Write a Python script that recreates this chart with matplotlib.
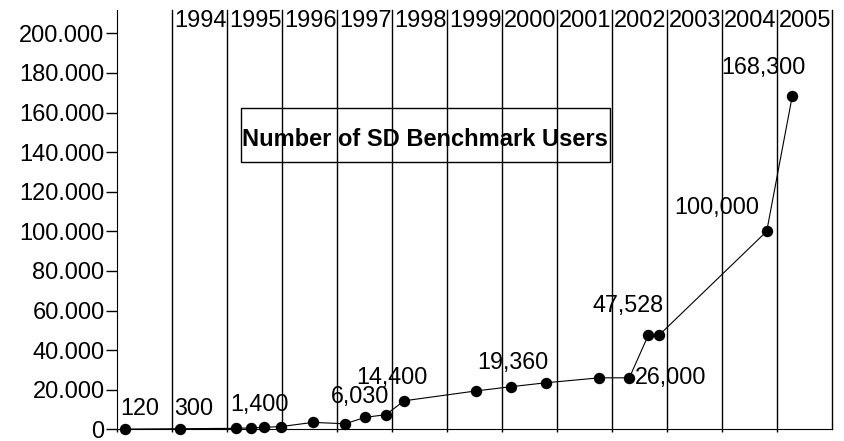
import matplotlib.pyplot as plt
from matplotlib.patches import Rectangle
from matplotlib.ticker import FuncFormatter

plt.rcParams['font.family'] = ['Liberation Sans', 'DejaVu Sans']

# position along the time axis (fractional year) and number of users
years = [1993.145, 1994.145, 1995.16, 1995.44, 1995.67, 1995.99, 1996.56,
         1997.15, 1997.51, 1997.89, 1998.22, 1999.52, 2000.158, 2000.795,
         2001.769, 2002.315, 2002.66, 2002.855, 2004.813, 2005.278]
users = [120, 300, 500, 700, 1000, 1400, 3500,
         2800, 6030, 7400, 14400, 19360, 21500, 23500,
         26000, 26000, 47528, 47528, 100000, 168300]

# which points get a value label, and where the label sits (pixels from the point)
labelled = [0, 1, 5, 8, 10, 11, 15, 16, 18, 19]
label_offsets = [(15, 14), (14, 14), (-22, 16), (-5, 14), (-12, 17),
                 (37, 22), (41, -6), (-20, 23), (-50, 17), (-29, 22)]

year_labels = list(range(1994, 2006))
grid_years = list(range(1994, 2007))
y_ticks = list(range(0, 200001, 20000))

fig = plt.figure(figsize=(8.45, 4.41), dpi=100)
ax = fig.add_axes([0.1385, 0.0265, 0.8461, 0.9508])

ax.set_xlim(1993, 2006)
ax.set_ylim(0, 211768)

# one vertical line per year, labelled at the top
for yr in grid_years:
    ax.axvline(yr, color='black', lw=1, zorder=1, clip_on=False)
for yr in year_labels:
    ax.text(yr + 0.035, 0.9602, str(yr), transform=ax.get_xaxis_transform(),
            fontsize=17, ha='left', va='baseline')

ax.plot(years, users, color='black', lw=0.8, marker='o', markersize=7.2,
        zorder=3, clip_on=False)

for i, (dx, dy) in zip(labelled, label_offsets):
    ax.annotate(f'{users[i]:,}', (years[i], users[i]), xytext=(dx, dy),
                textcoords='offset pixels', ha='center', va='baseline',
                fontsize=16.8, zorder=4)

# title in a plain box
ax.add_patch(Rectangle((0.173, 0.6382), 0.5165, 0.1274, transform=ax.transAxes,
                       fill=False, edgecolor='black', lw=1, zorder=2))
ax.text(0.4313, 0.6923, 'Number of SD Benchmark Users', transform=ax.transAxes,
        fontsize=17, fontweight='bold', ha='center', va='center', zorder=2)

ax.set_yticks(y_ticks)
ax.yaxis.set_major_formatter(FuncFormatter(lambda v, p: f'{int(v):,}'.replace(',', '.')))
ax.set_xticks(grid_years[:-1] + [1993])
ax.set_xticklabels([])
ax.tick_params(axis='y', length=8, width=1, pad=1, labelsize=17)
ax.tick_params(axis='x', length=2, width=1)

ax.spines['top'].set_visible(False)
ax.spines['right'].set_visible(False)

fig.savefig('out.png', dpi=100)
